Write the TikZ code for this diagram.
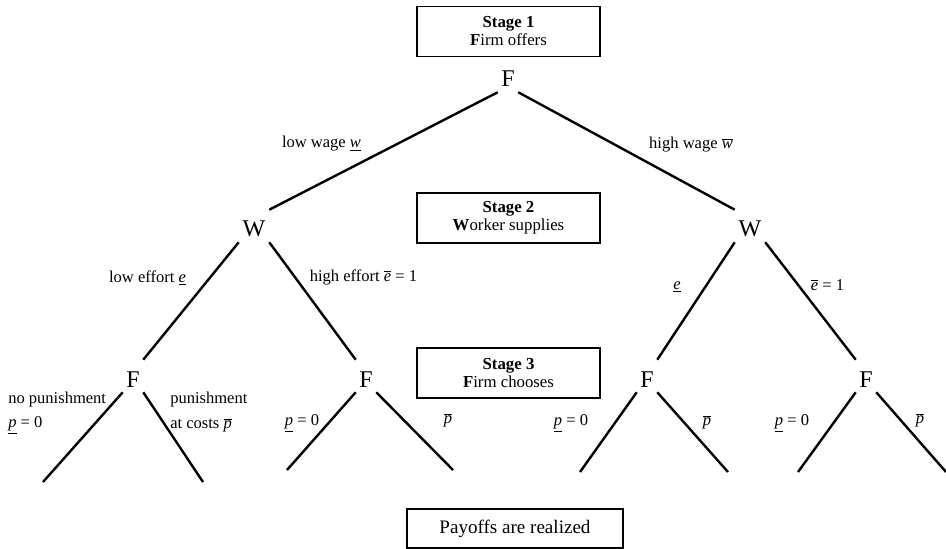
\documentclass[tikz,border=0pt]{standalone}
\usepackage{fontspec}
\setmainfont{Liberation Serif}
\usetikzlibrary{positioning}
\newcommand{\lowbar}[1]{\underline{\textit{#1}}}
\newcommand{\highbar}[1]{$\overline{\mbox{\textit{#1}}}$}

\begin{document}
\begin{tikzpicture}
	[   x=0.75pt,y=-0.75pt,
		player/.style={font=\fontsize{18}{18}\selectfont,anchor=base,text height=16.5pt,text depth=0pt,inner xsep=0pt,inner ysep=3.75pt,minimum width=#1},
		player/.default=15pt,
		stage/.style={draw=black,line width=1.4pt,align=center,minimum width=137.25pt,minimum height=37.5pt,font=\fontsize{12.6}{13.5}\selectfont},
		move/.style={font=\fontsize{12.4}{14}\selectfont,inner sep=0pt},
	]
	\tikzset{branch/.style={draw,line width=1.8pt}}
	\useasboundingbox (0,0) rectangle (946,549);
	
	\node[stage] (s1) at (508.5,31.5) {\textbf{Stage 1}\\\textbf{F}irm offers};
	\node[stage] (s2) at (508.5,218) {\textbf{Stage 2}\\\textbf{W}orker supplies};
	\node[stage] (s3) at (508.5,373) {\textbf{Stage 3}\\\textbf{F}irm chooses};
	\node[stage,minimum width=162pt,minimum height=29.25pt,font=\fontsize{14.3}{16}\selectfont] (pay) at (515,528.5) {Payoffs are realized};
	
	\node[player] (root) at (508,87) {F};
	\node[player=22.5pt] (wl) at (254,237) {W};
	\node[player=22.5pt] (wr) at (750,237) {W};
	\node[player] (f1) at (133,387) {F};
	\node[player] (f2) at (366,387) {F};
	\node[player] (f3) at (647,387) {F};
	\node[player] (f4) at (866,387) {F};
	
	\path[branch] (root.south west) -- (wl.north east);
	\path[branch] (root.south east) -- (wr.north west);
	\path[branch] (wl.south west) -- (f1.north east);
	\path[branch] (wl.south east) -- (f2.north west);
	\path[branch] (wr.south west) -- (f3.north east);
	\path[branch] (wr.south east) -- (f4.north west);
	
	\foreach \f/\xa/\xb/\y in {f1/43/203/482,f2/287/453/470,f3/580/728/472,f4/798/946/472}
	{
		\coordinate (\f-a) at (\xa,\y);
		\coordinate (\f-b) at (\xb,\y);
		\path[branch] (\f.south west) -- (\f-a);
		\path[branch] (\f.south east) -- (\f-b);
	}
	
	\node[move] (lw) at (321.5,144) {low wage \lowbar{w}};
	\node[move] (hw) at (691,145) {high wage \highbar{w}};
	\node[move] (le) at (147.5,278) {low effort \lowbar{e}};
	\node[move] (he) at (363.5,277) {high effort \highbar{e} = 1};
	\node[move] (le2) at (677,287) {\lowbar{e}};
	\node[move] (he2) at (827.5,285) {\highbar{e} = 1};
	
	\node[move,anchor=west] (np) at (8,400) {no punishment};
	\node[move,anchor=west] (np0) at (8,425) {\lowbar{p} = 0};
	\node[move,anchor=west] (pu) at (170,400) {punishment};
	\node[move,anchor=west] (puc) at (170,425) {at costs \highbar{p}};
	\node[move] (p2a) at (302,423) {\lowbar{p} = 0};
	\node[move] (p2b) at (448,420) {\highbar{p}};
	\node[move] (p3a) at (571,423) {\lowbar{p} = 0};
	\node[move] (p3b) at (707,422) {\highbar{p}};
	\node[move] (p4a) at (792,423) {\lowbar{p} = 0};
	\node[move] (p4b) at (920,420) {\highbar{p}};
\end{tikzpicture}
\end{document}
